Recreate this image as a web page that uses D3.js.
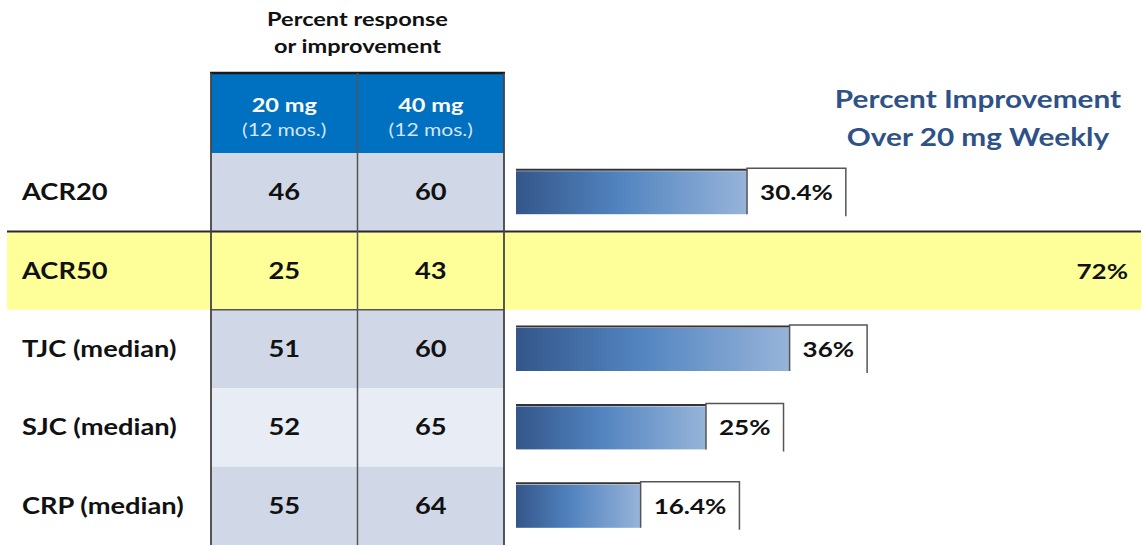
<!DOCTYPE html>
<html>
<head>
<meta charset="utf-8">
<script src="https://cdn.jsdelivr.net/npm/d3@7"></script>
<style>
  body { margin: 0; background: #fff; }
  svg { display: block; font-family: Lato, "Open Sans", sans-serif; }
</style>
</head>
<body>
<div id="chart"></div>
<script>
var categories = ['ACR20', 'ACR50', 'TJC (median)', 'SJC (median)', 'CRP (median)'],
    doses = ['20 mg', '40 mg'],
    doseNote = '(12 mos.)',
    dose20 = [46, 25, 51, 52, 55],
    dose40 = [60, 43, 60, 65, 64],
    improvement = [30.4, 72, 36, 25, 16.4],
    improvementLabels = ['30.4%', '72%', '36%', '25%', '16.4%'],
    highlightRow = 'ACR50';

var width = 1141,
    height = 545,
    tableLeft = 211,
    tableRight = 504,
    headTop = 73,
    headBottom = 153,
    STRETCH = 1.24, // the slide text is drawn a bit wide
    svg = d3.select('#chart').append('svg')
        .attr('width', width)
        .attr('height', height);

var y = d3.scaleBand().domain(categories).range([headBottom, height]),
    col = d3.scaleBand().domain(doses).range([tableLeft, tableRight]),
    x = d3.scaleLinear().domain([0, 100]).range([516, 516 + 760]);

function addText(tx, ty, str, size, opts) {
    opts = opts || {};
    return svg.append('text')
        .attr('transform', 'translate(' + tx + ',' + ty + ') scale(' + (opts.sx || STRETCH) + ',1)')
        .attr('text-anchor', opts.anchor || 'start')
        .style('font-weight', opts.normal ? 'normal' : 'bold')
        .style('font-size', size + 'px')
        .style('fill', opts.fill || '#111')
        .text(str);
}

var defs = svg.append('defs'),
    grad = defs.append('linearGradient').attr('id', 'barGrad');
grad.append('stop').attr('offset', '0%').attr('stop-color', '#34568a');
grad.append('stop').attr('offset', '45%').attr('stop-color', '#5284c0');
grad.append('stop').attr('offset', '100%').attr('stop-color', '#97b4d9');

// table body cells
categories.forEach(function(c, i) {
    svg.append('rect')
        .attr('x', tableLeft)
        .attr('y', y(c))
        .attr('width', tableRight - tableLeft)
        .attr('height', y.bandwidth())
        .style('fill', i === 3 ? '#e8ecf4' : '#d0d7e7');
});

// highlighted row
svg.append('rect')
    .attr('x', 7)
    .attr('y', y(highlightRow) + 1)
    .attr('width', width - 7)
    .attr('height', y.bandwidth() - 1)
    .style('fill', '#ffff99');
svg.append('line')
    .attr('x1', 7).attr('x2', width)
    .attr('y1', y(highlightRow)).attr('y2', y(highlightRow))
    .style('stroke', '#2a2a2a').style('stroke-width', 2);
svg.append('line')
    .attr('x1', tableLeft).attr('x2', tableRight)
    .attr('y1', y(highlightRow) + y.bandwidth()).attr('y2', y(highlightRow) + y.bandwidth())
    .style('stroke', '#555').style('stroke-width', 1.5);

// header
svg.append('rect')
    .attr('x', tableLeft).attr('y', headTop)
    .attr('width', tableRight - tableLeft).attr('height', headBottom - headTop)
    .style('fill', '#0070c0');
svg.append('line')
    .attr('x1', tableLeft - 1).attr('x2', tableRight + 1)
    .attr('y1', headTop).attr('y2', headTop)
    .style('stroke', '#1a1a1a').style('stroke-width', 2.5);

doses.forEach(function(d) {
    var cx = col(d) + col.bandwidth() / 2;
    addText(cx, 112, d, 19, {anchor: 'middle', fill: '#fff'});
    addText(cx, 136, doseNote, 17, {anchor: 'middle', fill: '#d6e4f3', normal: true});
});

// table grid lines
[tableLeft, tableRight].forEach(function(lx) {
    svg.append('line')
        .attr('x1', lx).attr('x2', lx)
        .attr('y1', headTop).attr('y2', height)
        .style('stroke', '#444').style('stroke-width', 1.8);
});
svg.append('line')
    .attr('x1', col(doses[1])).attr('x2', col(doses[1]))
    .attr('y1', headTop).attr('y2', height)
    .style('stroke', '#555').style('stroke-width', 1.5);

// titles
['Percent response', 'or improvement'].forEach(function(t, i) {
    addText((tableLeft + tableRight) / 2, 26 + i * 27, t, 19, {anchor: 'middle'});
});
['Percent Improvement', 'Over 20 mg Weekly'].forEach(function(t, i) {
    addText(978, 108 + i * 38, t, 24, {anchor: 'middle', fill: '#2e5287'});
});

// row labels and values
categories.forEach(function(c, i) {
    var cy = y(c) + y.bandwidth() / 2 + 8;
    addText(22, cy, c, 22);
    [dose20[i], dose40[i]].forEach(function(v, j) {
        addText(col(doses[j]) + col.bandwidth() / 2, cy, v, 22, {anchor: 'middle'});
    });
});

// improvement bars
categories.forEach(function(c, i) {
    var cy = y(c) + y.bandwidth() / 2,
        top = cy - 23,
        bottom = cy + 22,
        x0 = x(0),
        x1 = x(improvement[i]),
        label, tw, boxRight;

    if (c === highlightRow) {
        addText(1128, cy + 8, improvementLabels[i], 21, {anchor: 'end'});
        return;
    }

    svg.append('rect')
        .attr('x', x0).attr('y', top + 2)
        .attr('width', x1 - x0).attr('height', bottom - top - 2)
        .style('fill', 'url(#barGrad)');

    label = addText(x1 + 13, cy + 8, improvementLabels[i], 21);
    tw = label.node().getComputedTextLength() * STRETCH;
    boxRight = x1 + 13 + tw + 13;

    svg.append('line')
        .attr('x1', x0).attr('x2', x1)
        .attr('y1', top + 0.5).attr('y2', top + 0.5)
        .style('stroke', '#333').style('stroke-width', 2);
    svg.append('path')
        .attr('d', 'M' + x1 + ',' + bottom + 'V' + (top - 1) + 'H' + boxRight + 'V' + (bottom + 2))
        .style('fill', 'none')
        .style('stroke', '#555').style('stroke-width', 1.5);
});
</script>
</body>
</html>
